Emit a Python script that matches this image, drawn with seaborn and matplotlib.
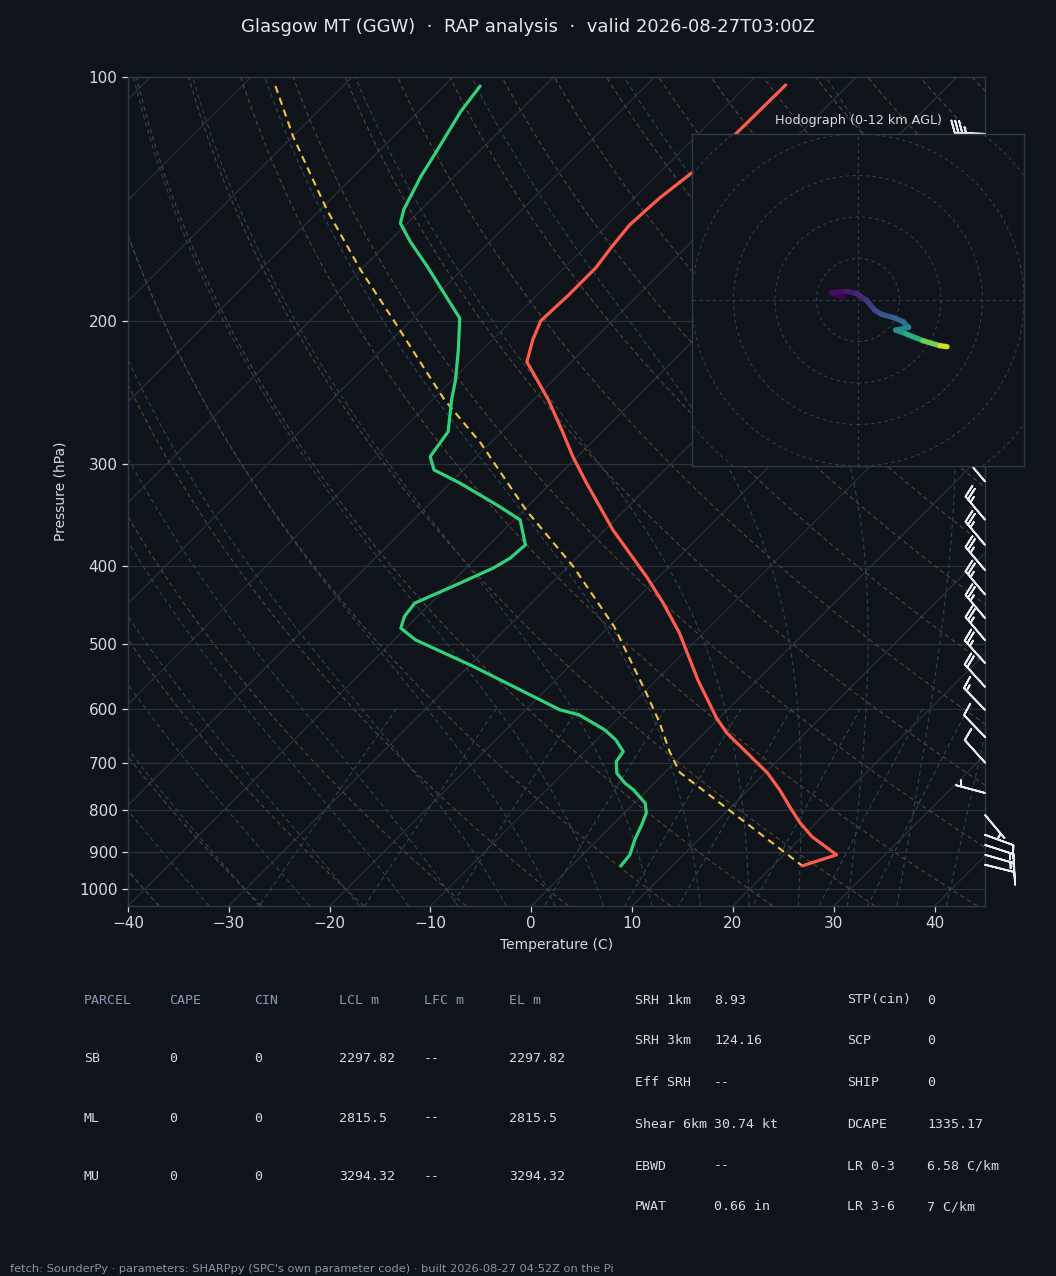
import numpy as np
import pandas as pd
import matplotlib
matplotlib.use("Agg")
import matplotlib.pyplot as plt
from matplotlib.collections import LineCollection
from matplotlib.colors import Normalize
from matplotlib.patches import Circle
from matplotlib.ticker import NullLocator, FixedLocator
import seaborn as sns

# ---------------- data ----------------
temp_p = [102.3, 117.2, 131.3, 141.0, 152.2, 161.9, 171.9, 185.5, 199.7, 210.8,
          224.4, 236.1, 249.9, 272.1, 293.8, 316.2, 361.4, 412.8, 444.4, 483.9,
          553.0, 615.7, 642.5, 680.0, 719.6, 755.1, 792.5, 829.3, 862.9, 908.1, 936.9]
temp_c = [-56.2, -56.3, -56.8, -57.5, -57.8, -57.4, -56.9, -56.9, -57.1, -56.0,
          -54.4, -51.6, -48.5, -44.2, -40.4, -36.5, -29.2, -21.2, -17.0, -12.4,
          -5.9, -0.3, 2.2, 6.2, 10.2, 13.1, 15.8, 18.4, 21.0, 25.2, 22.9]

dwpt_p = [102.6, 110.3, 123.0, 132.7, 145.8, 151.4, 159.5, 171.3, 198.2, 216.8,
          236.1, 249.9, 273.4, 293.5, 304.8, 316.5, 336.6, 351.2, 377.0, 391.5,
          402.7, 420.3, 444.8, 462.0, 477.4, 493.5, 510.2, 529.8, 547.7, 582.2,
          602.0, 610.6, 637.0, 655.4, 677.5, 697.0, 720.3, 741.0, 755.1, 784.3,
          806.9, 834.1, 870.4, 908.1, 936.9]
dwpt_c = [-86.4, -85.8, -84.3, -83.3, -81.7, -80.7, -77.9, -73.7, -65.4, -62.4,
          -59.7, -58.1, -55.3, -54.6, -52.9, -49.0, -43.2, -39.4, -36.4, -36.6,
          -37.3, -39.1, -41.6, -41.3, -40.5, -37.9, -34.2, -30.0, -26.5, -20.1,
          -16.6, -14.2, -10.2, -8.1, -6.2, -5.9, -4.7, -2.9, -1.4, 1.1,
          2.2, 2.9, 3.7, 4.7, 4.9]

parcel_p = [102.6, 118.5, 145.8, 172.9, 199.2, 222.0, 249.9, 282.6, 341.5, 400.9,
            475.3, 574.1, 625.0, 677.5, 719.1, 936.9]
parcel_c = [-106.7, -99.9, -89.3, -80.0, -71.8, -65.6, -58.8, -50.9, -39.8, -29.5,
            -19.5, -9.7, -5.4, -1.6, 1.5, 22.9]

barb_p = [117.5, 315, 351, 377, 405, 434, 464, 494, 527, 564, 602, 650, 699, 762,
          811, 858, 883, 908, 934]
barb_dir = [272, 320, 320, 320, 320, 320, 320, 320, 318, 318, 316, 316, 318, 285,
            140, 110, 108, 106, 104]
barb_spd = [35, 25, 25, 25, 25, 25, 25, 25, 25, 20, 15, 10, 10, 5,
            5, 10, 15, 15, 10]

hodo_u = [-6.9, -12.8, -5.6, -0.8, 4.0, 8.0, 11.3, 16.9, 21.7, 24.4, 18.2, 23.3, 31.3, 39.4, 42.9]
hodo_v = [1.3, 3.5, 4.2, 3.2, 0.0, -4.8, -6.9, -8.4, -10.4, -13.2, -14.5, -16.4, -19.6, -22.0, -22.5]
hodo_z = [0.0, 0.25, 0.6, 1.0, 1.6, 2.3, 2.9, 3.6, 4.3, 5.0, 5.8, 6.8, 8.4, 10.3, 12.0]

p_ticks = [100, 200, 300, 400, 500, 600, 700, 800, 900, 1000]
t_ticks = [-40, -30, -20, -10, 0, 10, 20, 30, 40]

tbl_header = ["PARCEL", "CAPE", "CIN", "LCL m", "LFC m", "EL m"]
tbl_parcel = ["SB", "ML", "MU"]
tbl_cape = ["0", "0", "0"]
tbl_cin = ["0", "0", "0"]
tbl_lcl = ["2297.82", "2815.5", "3294.32"]
tbl_lfc = ["--", "--", "--"]
tbl_el = ["2297.82", "2815.5", "3294.32"]

idx_names_a = ["SRH 1km", "SRH 3km", "Eff SRH", "Shear 6km", "EBWD", "PWAT"]
idx_vals_a = ["8.93", "124.16", "--", "30.74 kt", "--", "0.66 in"]
idx_names_b = ["STP(cin)", "SCP", "SHIP", "DCAPE", "LR 0-3", "LR 3-6"]
idx_vals_b = ["0", "0", "0", "1335.17", "6.58 C/km", "7 C/km"]

title_text = "Glasgow MT (GGW)  \u00b7  RAP analysis  \u00b7  valid 2026-08-27T03:00Z"
footer_text = ("fetch: SounderPy \u00b7 parameters: SHARPpy (SPC's own parameter code) "
               "\u00b7 built 2026-08-27 04:52Z on the Pi")

# ---------------- style ----------------
BG = "#0f141b"
SPINE = "#2f3a48"
GRID = "#27303b"
DRY = "#5a4530"
MOIST = "#294752"
TXT = "#d6dbe1"
HDR = "#8a9bb1"
RED = "#ff5b4a"
GREEN = "#33d17a"
YEL = "#f2c443"

sns.set_theme(style="dark", rc={
    "axes.facecolor": BG, "figure.facecolor": BG, "savefig.facecolor": BG,
    "axes.edgecolor": SPINE, "axes.labelcolor": TXT, "xtick.color": TXT,
    "ytick.color": TXT, "text.color": TXT, "axes.grid": False,
})
plt.rcParams["font.family"] = ["DejaVu Sans"]

W_PX, H_PX = 1056, 1276
fig = plt.figure(figsize=(W_PX / 100, H_PX / 100), dpi=100)

def fx(x):
    return x / W_PX

def fy(y):
    return 1 - y / H_PX

AX_L, AX_R, AX_T, AX_B = 128, 985, 77, 906
ax = fig.add_axes([fx(AX_L), fy(AX_B), (AX_R - AX_L) / W_PX, (AX_B - AX_T) / H_PX])
ax.set_facecolor(BG)

P_BOT, P_TOP = 1050.0, 100.0
X_MIN, X_MAX = -40.0, 45.0
K = (X_MAX - X_MIN) * (AX_B - AX_T) / (AX_R - AX_L)   # 45 deg skew in display


def yfrac(p):
    p = np.asarray(p, float)
    return (np.log(P_BOT) - np.log(p)) / (np.log(P_BOT) - np.log(P_TOP))


def skx(t, p):
    return np.asarray(t, float) + K * yfrac(p)


ax.set_yscale("log")

# background: isobars and isotherms
for p in p_ticks:
    ax.axhline(p, color=GRID, lw=0.9, zorder=1)
pp = np.geomspace(P_BOT, P_TOP, 60)
for t in range(-130, 50, 10):
    ax.plot(skx(np.full_like(pp, t), pp), pp, color=GRID, lw=0.9, zorder=1)

# dry adiabats
pline = np.geomspace(P_BOT, P_TOP, 120)
for t0 in range(233, 534, 10):
    tt = t0 * (pline / 1000.0) ** 0.2857 - 273.15
    ax.plot(skx(tt, pline), pline, color=DRY, lw=0.8, ls=(0, (4, 3)), zorder=1)

# moist adiabats (numerical pseudo-adiabat)
Rd, Cp, Lv, eps = 287.047, 1004.6, 2.501e6, 0.62196


def dTdp(p, T):
    es = 6.112 * np.exp(17.67 * (T - 273.15) / (T - 29.65))
    rs = eps * es / np.maximum(p - es, 1e-3)
    return (Rd * T + Lv * rs) / (Cp + Lv * Lv * rs * eps / (Rd * T * T)) / p


def integrate(grid, T0):
    T = np.array(T0, float)
    out = [T.copy()]
    for i in range(len(grid) - 1):
        p = grid[i]
        h = grid[i + 1] - grid[i]
        k1 = dTdp(p, T)
        k2 = dTdp(p + h / 2, T + h / 2 * k1)
        k3 = dTdp(p + h / 2, T + h / 2 * k2)
        k4 = dTdp(p + h, T + h * k3)
        T = T + h / 6 * (k1 + 2 * k2 + 2 * k3 + k4)
        out.append(T.copy())
    return np.array(out)


t0m = np.arange(233, 331, 5, dtype=float)
g_up = np.linspace(1000, 100, 451)
g_dn = np.linspace(1000, 1050, 26)
T_up = integrate(g_up, t0m)
T_dn = integrate(g_dn, t0m)
pm = np.concatenate([g_dn[::-1], g_up[1:]])
Tm = np.concatenate([T_dn[::-1], T_up[1:]], axis=0) - 273.15
for j in range(len(t0m)):
    ax.plot(skx(Tm[:, j], pm), pm, color=MOIST, lw=0.8, ls=(0, (4, 3)), zorder=1)

# mixing ratio lines
pmix = np.linspace(600, P_BOT, 40)
for w in [0.0004, 0.001, 0.002, 0.004, 0.007, 0.01, 0.016, 0.024, 0.032]:
    e = pmix * w / (eps + w)
    lg = np.log(e / 6.112)
    td = 243.5 * lg / (17.67 - lg)
    ax.plot(skx(td, pmix), pmix, color=MOIST, lw=0.8, ls=(0, (4, 3)), zorder=1)

# profiles
df_t = pd.DataFrame({"x": skx(temp_c, temp_p), "p": temp_p})
df_d = pd.DataFrame({"x": skx(dwpt_c, dwpt_p), "p": dwpt_p})
df_pc = pd.DataFrame({"x": skx(parcel_c, parcel_p), "p": parcel_p})
sns.lineplot(data=df_pc, x="x", y="p", sort=False, estimator=None, color=YEL,
             lw=1.5, ax=ax, zorder=3, linestyle=(0, (3.5, 2.5)))
sns.lineplot(data=df_t, x="x", y="p", sort=False, estimator=None, color=RED,
             lw=2.3, ax=ax, zorder=4)
sns.lineplot(data=df_d, x="x", y="p", sort=False, estimator=None, color=GREEN,
             lw=2.3, ax=ax, zorder=4)

ax.set_yscale("log")
ax.set_ylim(P_BOT, P_TOP)
ax.set_xlim(X_MIN, X_MAX)
ax.yaxis.set_major_locator(FixedLocator(p_ticks))
ax.yaxis.set_minor_locator(NullLocator())
ax.set_yticklabels([str(p) for p in p_ticks])
ax.set_xticks(t_ticks)
ax.set_xticklabels([f"{t}".replace("-", "\u2212") for t in t_ticks])
ax.tick_params(axis="both", labelsize=11, colors=TXT, length=4, width=0.9,
               direction="out", left=True, bottom=True)
ax.set_xlabel("Temperature (C)", fontsize=10, color=TXT, labelpad=5)
ax.set_ylabel("Pressure (hPa)", fontsize=10, color=TXT, labelpad=8)
for s in ax.spines.values():
    s.set_color(SPINE)
    s.set_linewidth(1.0)

# wind barbs at the right edge
bd = np.deg2rad(np.asarray(barb_dir, float))
bs = np.asarray(barb_spd, float)
bu = -bs * np.sin(bd)
bv = -bs * np.cos(bd)
ax.barbs(np.ones(len(barb_p)), barb_p, bu, bv, transform=ax.get_yaxis_transform(),
         clip_on=False, length=6.6, color="#e8ecf1", lw=1.3, zorder=5)

# hodograph inset
axh = fig.add_axes([fx(692), fy(466), 332 / W_PX, 332 / H_PX], zorder=6)
axh.set_facecolor(BG)
for r in range(20, 141, 20):
    axh.add_patch(Circle((0, 0), r, fill=False, ls=(0, (3, 3)), ec="#333d4a", lw=0.8))
axh.axhline(0, color="#333d4a", lw=0.8, ls=(0, (3, 3)))
axh.axvline(0, color="#333d4a", lw=0.8, ls=(0, (3, 3)))
pts = np.column_stack([hodo_u, hodo_v]).reshape(-1, 1, 2)
segs = np.concatenate([pts[:-1], pts[1:]], axis=1)
zmid = (np.asarray(hodo_z[:-1]) + np.asarray(hodo_z[1:])) / 2
lc = LineCollection(segs, cmap="viridis", norm=Normalize(0, 12), lw=3.8, capstyle="round",
                    joinstyle="round")
lc.set_array(zmid)
axh.add_collection(lc)
axh.set_xlim(-80, 80)
axh.set_ylim(-80, 80)
axh.set_xticks([-75, -50, -25, 0, 25, 50, 75])
axh.set_yticks([-80, -60, -40, -20, 0, 20, 40, 60, 80])
axh.set_xticklabels([])
axh.set_yticklabels([])
axh.tick_params(colors="#c8ced6", length=4, width=0.9, direction="out")
for s in axh.spines.values():
    s.set_color(SPINE)
    s.set_linewidth(1.0)
axh.set_title("Hodograph (0-12 km AGL)", fontsize=9.2, color=TXT, pad=7)

# title
fig.text(0.5, fy(27), title_text, ha="center", va="center", fontsize=13, color="#e4e8ed")

# parcel table
mono = "DejaVu Sans Mono"
col_x = [84, 169, 254, 339, 424, 509]
row_y = [1000, 1059, 1118, 1177]
for cx, h in zip(col_x, tbl_header):
    fig.text(fx(cx), fy(row_y[0]), h, family=mono, fontsize=9.5, color=HDR, va="center")
cols = [tbl_parcel, tbl_cape, tbl_cin, tbl_lcl, tbl_lfc, tbl_el]
for ci, (cx, col) in enumerate(zip(col_x, cols)):
    for ri, val in enumerate(col):
        fig.text(fx(cx), fy(row_y[ri + 1]), val, family=mono, fontsize=9.5, color=TXT,
                 va="center")

# index table
idx_y = [1000, 1041, 1083, 1124, 1166, 1207]
for i, yy in enumerate(idx_y):
    fig.text(fx(635), fy(yy), idx_names_a[i], family=mono, fontsize=9.5, color=TXT, va="center")
    fig.text(fx(714), fy(yy), idx_vals_a[i], family=mono, fontsize=9.5, color=TXT, va="center")
    fig.text(fx(847), fy(yy), idx_names_b[i], family=mono, fontsize=9.5, color=TXT, va="center")
    fig.text(fx(927), fy(yy), idx_vals_b[i], family=mono, fontsize=9.5, color=TXT, va="center")

fig.text(fx(10), fy(1269), footer_text, fontsize=8.2, color="#8695a8", va="center")

fig.savefig("out.png", dpi=100, facecolor=BG)
